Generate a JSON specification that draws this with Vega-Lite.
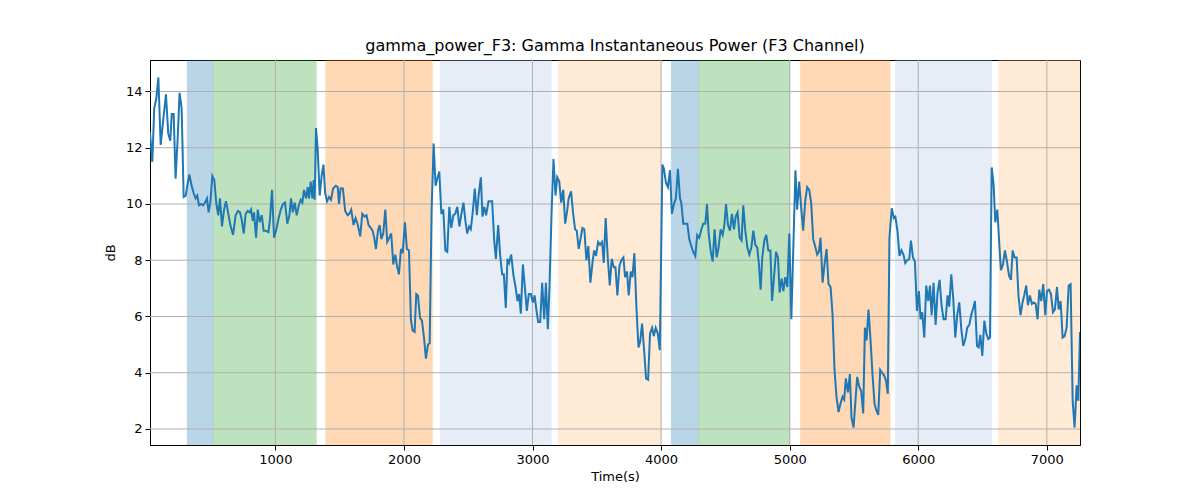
{
  "$schema": "https://vega.github.io/schema/vega-lite/v6.json",
  "autosize": "none",
  "width": 930,
  "height": 385,
  "padding": {"left": 150, "top": 60, "right": 120, "bottom": 55},
  "background": "white",
  "title": {"text": "gamma_power_F3: Gamma Instantaneous Power (F3 Channel)", "font": "DejaVu Sans", "fontSize": 16, "fontWeight": "normal", "color": "black", "offset": 6},
  "datasets": {
    "bands": [
      {"start": 313, "end": 516, "phase": "p1"},
      {"start": 516, "end": 1320, "phase": "p2"},
      {"start": 1390, "end": 2223, "phase": "p3"},
      {"start": 2280, "end": 3148, "phase": "p4"},
      {"start": 3200, "end": 3998, "phase": "p5"},
      {"start": 4078, "end": 4290, "phase": "p1"},
      {"start": 4290, "end": 5004, "phase": "p2"},
      {"start": 5082, "end": 5782, "phase": "p3"},
      {"start": 5821, "end": 6573, "phase": "p4"},
      {"start": 6625, "end": 7258, "phase": "p5"}
    ],
    "xgrid": [{"g": 1000}, {"g": 2000}, {"g": 3000}, {"g": 4000}, {"g": 5000}, {"g": 6000}, {"g": 7000}],
    "ygrid": [{"g": 2}, {"g": 4}, {"g": 6}, {"g": 8}, {"g": 10}, {"g": 12}, {"g": 14}],
    "series": [
      {"t":25,"v":12.55},{"t":43,"v":11.5},{"t":58,"v":13.4},{"t":74,"v":13.75},{"t":90,"v":14.5},{"t":108,"v":12.1},{"t":126,"v":12.9},{"t":149,"v":13.9},{"t":167,"v":12.5},{"t":183,"v":12.25},{"t":194,"v":13.2},{"t":209,"v":13.2},{"t":224,"v":10.9},{"t":240,"v":12.3},{"t":255,"v":13.95},{"t":271,"v":13.4},{"t":287,"v":10.25},{"t":303,"v":10.3},{"t":315,"v":10.65},{"t":331,"v":11.05},{"t":349,"v":10.65},{"t":364,"v":10.4},{"t":380,"v":10.2},{"t":393,"v":10.3},{"t":406,"v":9.95},{"t":422,"v":10.0},{"t":437,"v":9.95},{"t":453,"v":10.05},{"t":468,"v":10.2},{"t":481,"v":9.7},{"t":494,"v":10.05},{"t":510,"v":11.0},{"t":525,"v":10.85},{"t":541,"v":10.0},{"t":556,"v":9.6},{"t":569,"v":10.2},{"t":585,"v":9.2},{"t":601,"v":9.8},{"t":616,"v":10.1},{"t":632,"v":9.7},{"t":650,"v":9.25},{"t":671,"v":8.9},{"t":691,"v":9.6},{"t":709,"v":9.75},{"t":725,"v":9.7},{"t":738,"v":9.45},{"t":754,"v":8.95},{"t":769,"v":9.65},{"t":785,"v":9.75},{"t":800,"v":9.7},{"t":811,"v":9.8},{"t":824,"v":9.4},{"t":834,"v":9.7},{"t":850,"v":8.8},{"t":863,"v":9.8},{"t":878,"v":9.35},{"t":894,"v":9.6},{"t":909,"v":9.05},{"t":925,"v":9.05},{"t":946,"v":9.0},{"t":958,"v":9.45},{"t":974,"v":10.5},{"t":990,"v":8.8},{"t":1008,"v":9.1},{"t":1023,"v":9.45},{"t":1042,"v":9.8},{"t":1060,"v":10.0},{"t":1075,"v":10.05},{"t":1093,"v":9.3},{"t":1109,"v":9.6},{"t":1122,"v":10.2},{"t":1135,"v":9.7},{"t":1150,"v":10.05},{"t":1166,"v":9.6},{"t":1182,"v":9.95},{"t":1197,"v":10.15},{"t":1210,"v":10.05},{"t":1223,"v":10.5},{"t":1239,"v":10.2},{"t":1252,"v":10.6},{"t":1262,"v":10.2},{"t":1275,"v":10.8},{"t":1288,"v":10.2},{"t":1298,"v":10.85},{"t":1306,"v":10.15},{"t":1316,"v":12.7},{"t":1329,"v":11.95},{"t":1345,"v":10.3},{"t":1361,"v":11.05},{"t":1374,"v":11.4},{"t":1387,"v":10.4},{"t":1402,"v":10.1},{"t":1418,"v":10.25},{"t":1433,"v":10.15},{"t":1449,"v":10.55},{"t":1470,"v":10.65},{"t":1485,"v":10.6},{"t":1495,"v":10.0},
      {"t":1507,"v":10.55},{"t":1525,"v":10.55},{"t":1543,"v":9.75},{"t":1562,"v":9.6},{"t":1575,"v":9.65},{"t":1590,"v":9.8},{"t":1608,"v":9.25},{"t":1624,"v":9.5},{"t":1639,"v":9.3},{"t":1660,"v":8.85},{"t":1676,"v":9.65},{"t":1694,"v":9.55},{"t":1709,"v":9.6},{"t":1725,"v":9.25},{"t":1741,"v":9.15},{"t":1756,"v":9.05},{"t":1769,"v":8.8},{"t":1782,"v":8.4},{"t":1798,"v":9.05},{"t":1811,"v":9.25},{"t":1824,"v":8.75},{"t":1839,"v":8.95},{"t":1855,"v":9.8},{"t":1870,"v":8.65},{"t":1886,"v":8.8},{"t":1901,"v":8.95},{"t":1917,"v":7.85},{"t":1933,"v":8.2},{"t":1946,"v":7.8},{"t":1961,"v":7.5},{"t":1977,"v":8.4},{"t":1990,"v":8.25},{"t":2008,"v":9.35},{"t":2023,"v":8.4},{"t":2039,"v":8.35},{"t":2054,"v":5.9},{"t":2067,"v":5.5},{"t":2083,"v":5.45},{"t":2096,"v":6.8},{"t":2109,"v":6.75},{"t":2125,"v":5.95},{"t":2140,"v":5.85},{"t":2156,"v":5.25},{"t":2171,"v":4.5},{"t":2187,"v":5.0},{"t":2200,"v":5.05},{"t":2215,"v":9.75},{"t":2231,"v":12.15},{"t":2246,"v":10.65},{"t":2259,"v":10.9},{"t":2275,"v":11.15},{"t":2291,"v":9.65},{"t":2306,"v":9.8},{"t":2322,"v":8.35},{"t":2337,"v":8.3},{"t":2353,"v":9.9},{"t":2368,"v":9.15},{"t":2384,"v":9.6},{"t":2399,"v":9.65},{"t":2415,"v":9.9},{"t":2431,"v":9.2},
      {"t":2447,"v":9.65},{"t":2463,"v":10.05},{"t":2478,"v":9.4},{"t":2492,"v":8.95},{"t":2507,"v":9.2},{"t":2520,"v":9.1},{"t":2536,"v":9.75},{"t":2551,"v":10.55},{"t":2567,"v":9.6},{"t":2582,"v":10.35},{"t":2598,"v":10.95},{"t":2611,"v":9.55},{"t":2624,"v":9.9},{"t":2639,"v":9.6},{"t":2658,"v":10.1},{"t":2671,"v":10.1},{"t":2686,"v":10.1},{"t":2702,"v":8.7},{"t":2715,"v":8.05},{"t":2733,"v":9.25},{"t":2748,"v":8.2},{"t":2764,"v":7.5},{"t":2777,"v":7.5},{"t":2792,"v":6.3},{"t":2805,"v":8.05},{"t":2818,"v":7.9},{"t":2834,"v":8.2},{"t":2852,"v":7.45},{"t":2868,"v":7.05},{"t":2883,"v":6.55},{"t":2896,"v":6.8},{"t":2909,"v":6.1},{"t":2925,"v":7.85},{"t":2940,"v":7.05},{"t":2956,"v":6.2},{"t":2971,"v":6.8},{"t":2987,"v":6.8},{"t":3003,"v":6.5},{"t":3016,"v":6.75},{"t":3031,"v":6.2},{"t":3044,"v":5.8},{"t":3060,"v":5.8},{"t":3075,"v":7.2},{"t":3091,"v":5.9},{"t":3104,"v":7.2},{"t":3119,"v":5.55},{"t":3132,"v":7.05},{"t":3148,"v":9.65},{"t":3163,"v":11.6},{"t":3179,"v":10.3},{"t":3192,"v":10.95},{"t":3208,"v":10.8},{"t":3223,"v":10.05},{"t":3239,"v":10.5},{"t":3254,"v":9.3},{"t":3268,"v":9.7},{"t":3281,"v":10.2},
      {"t":3300,"v":10.45},{"t":3315,"v":9.7},{"t":3331,"v":9.1},{"t":3344,"v":9.05},{"t":3359,"v":8.4},{"t":3375,"v":8.8},{"t":3388,"v":9.15},{"t":3403,"v":9.1},{"t":3419,"v":8.0},{"t":3434,"v":8.5},{"t":3450,"v":7.2},{"t":3466,"v":7.9},{"t":3479,"v":8.35},{"t":3494,"v":8.15},{"t":3510,"v":8.65},{"t":3525,"v":8.55},{"t":3541,"v":8.65},{"t":3554,"v":7.9},{"t":3569,"v":9.5},{"t":3585,"v":8.1},{"t":3601,"v":7.1},{"t":3616,"v":8.05},{"t":3632,"v":7.75},{"t":3645,"v":7.75},{"t":3660,"v":6.75},{"t":3676,"v":7.8},{"t":3691,"v":8.0},{"t":3707,"v":8.1},{"t":3720,"v":7.4},{"t":3735,"v":7.6},{"t":3748,"v":6.75},{"t":3764,"v":7.6},{"t":3777,"v":7.4},{"t":3792,"v":8.25},{"t":3808,"v":6.35},{"t":3824,"v":4.9},{"t":3837,"v":5.1},{"t":3852,"v":5.75},{"t":3868,"v":4.8},{"t":3883,"v":3.8},{"t":3899,"v":3.75},{"t":3914,"v":5.4},{"t":3930,"v":5.6},{"t":3943,"v":5.3},{"t":3958,"v":5.6},{"t":3974,"v":5.4},{"t":3990,"v":4.8},
      {"t":4010,"v":11.4},{"t":4022,"v":11.25},{"t":4038,"v":10.75},{"t":4053,"v":10.6},{"t":4069,"v":11.2},{"t":4084,"v":9.65},{"t":4100,"v":10.0},{"t":4115,"v":10.2},{"t":4131,"v":11.25},{"t":4147,"v":10.2},{"t":4157,"v":10.05},{"t":4173,"v":9.3},{"t":4188,"v":9.3},{"t":4204,"v":9.3},{"t":4219,"v":8.75},{"t":4235,"v":8.5},{"t":4250,"v":8.3},{"t":4266,"v":8.15},{"t":4281,"v":8.9},{"t":4297,"v":8.8},{"t":4313,"v":9.1},{"t":4328,"v":9.3},{"t":4344,"v":9.3},{"t":4357,"v":10.0},{"t":4370,"v":8.95},{"t":4385,"v":8.35},{"t":4401,"v":7.95},{"t":4416,"v":9.1},{"t":4432,"v":8.1},{"t":4447,"v":8.45},{"t":4463,"v":9.1},{"t":4479,"v":8.9},{"t":4492,"v":9.25},{"t":4505,"v":10.0},{"t":4520,"v":9.25},{"t":4536,"v":9.05},{"t":4551,"v":9.65},{"t":4567,"v":9.1},{"t":4580,"v":9.55},{"t":4595,"v":9.7},{"t":4611,"v":8.8},{"t":4626,"v":8.7},{"t":4639,"v":9.95},{"t":4655,"v":9.05},{"t":4671,"v":8.45},{"t":4686,"v":8.2},{"t":4702,"v":8.45},{"t":4717,"v":9.05},{"t":4733,"v":8.55},{"t":4748,"v":8.45},{"t":4761,"v":7.85},{"t":4774,"v":6.95},{"t":4787,"v":8.1},{"t":4803,"v":8.7},{"t":4818,"v":8.9},{"t":4834,"v":8.35},{"t":4850,"v":8.35},{"t":4863,"v":6.55},{"t":4878,"v":7.4},{"t":4894,"v":8.3},{"t":4909,"v":8.1},{"t":4922,"v":6.85},{"t":4938,"v":7.35},{"t":4951,"v":6.9},{"t":4966,"v":7.4},{"t":4982,"v":7.05},{"t":4997,"v":8.95},{"t":5013,"v":5.9},
      {"t":5045,"v":11.2},{"t":5058,"v":9.8},{"t":5074,"v":10.8},{"t":5089,"v":9.9},{"t":5105,"v":9.05},{"t":5121,"v":10.1},{"t":5136,"v":10.6},{"t":5152,"v":10.5},{"t":5167,"v":10.05},{"t":5183,"v":8.75},{"t":5198,"v":8.5},{"t":5214,"v":8.2},{"t":5227,"v":8.3},{"t":5240,"v":8.8},{"t":5256,"v":7.2},{"t":5271,"v":7.85},{"t":5287,"v":8.4},{"t":5302,"v":7.15},{"t":5318,"v":7.05},{"t":5333,"v":6.1},{"t":5349,"v":4.1},{"t":5364,"v":3.15},{"t":5380,"v":2.6},{"t":5395,"v":2.9},{"t":5411,"v":3.15},{"t":5424,"v":3.05},{"t":5437,"v":3.8},{"t":5453,"v":3.3},{"t":5468,"v":3.95},{"t":5481,"v":2.4},{"t":5497,"v":2.05},{"t":5510,"v":2.9},{"t":5525,"v":3.85},{"t":5541,"v":3.5},{"t":5556,"v":3.35},{"t":5572,"v":2.55},{"t":5585,"v":5.6},{"t":5598,"v":5.15},{"t":5613,"v":6.25},{"t":5629,"v":5.15},{"t":5644,"v":3.95},{"t":5660,"v":2.9},{"t":5675,"v":2.65},{"t":5689,"v":2.5},{"t":5704,"v":4.1},{"t":5719,"v":4.0},{"t":5735,"v":3.9},{"t":5750,"v":3.7},{"t":5763,"v":3.25},{"t":5776,"v":8.8},{"t":5794,"v":9.85},{"t":5810,"v":9.5},{"t":5822,"v":9.55},{"t":5838,"v":9.05},{"t":5854,"v":8.15},{"t":5869,"v":8.35},{"t":5885,"v":8.2},
      {"t":5899,"v":7.9},{"t":5914,"v":8.0},{"t":5930,"v":8.05},{"t":5943,"v":8.7},{"t":5959,"v":8.1},{"t":5974,"v":7.95},{"t":5990,"v":6.2},{"t":6005,"v":6.9},{"t":6018,"v":5.9},{"t":6031,"v":6.15},{"t":6047,"v":5.25},{"t":6062,"v":7.1},{"t":6078,"v":6.55},{"t":6091,"v":7.1},{"t":6104,"v":6.05},{"t":6119,"v":7.2},{"t":6135,"v":5.7},{"t":6150,"v":6.85},{"t":6166,"v":7.3},{"t":6181,"v":6.4},{"t":6197,"v":5.9},{"t":6213,"v":5.9},{"t":6228,"v":6.75},{"t":6241,"v":6.35},{"t":6257,"v":7.5},{"t":6272,"v":6.65},{"t":6288,"v":5.25},{"t":6303,"v":6.05},{"t":6319,"v":6.5},{"t":6335,"v":5.55},{"t":6350,"v":4.95},{"t":6366,"v":5.2},{"t":6381,"v":5.6},{"t":6397,"v":5.7},{"t":6412,"v":6.05},{"t":6428,"v":6.3},{"t":6441,"v":6.55},{"t":6457,"v":4.95},{"t":6470,"v":4.9},{"t":6483,"v":5.35},{"t":6498,"v":4.6},{"t":6514,"v":5.85},{"t":6529,"v":5.4},{"t":6545,"v":5.2},{"t":6558,"v":5.25},
      {"t":6571,"v":11.3},{"t":6586,"v":10.7},{"t":6599,"v":9.35},{"t":6615,"v":9.8},{"t":6630,"v":8.6},{"t":6643,"v":7.65},{"t":6659,"v":7.85},{"t":6674,"v":8.35},{"t":6690,"v":7.95},{"t":6706,"v":7.45},{"t":6721,"v":7.3},{"t":6734,"v":8.35},{"t":6749,"v":8.1},{"t":6765,"v":8.1},{"t":6780,"v":6.7},{"t":6796,"v":6.05},{"t":6811,"v":6.5},{"t":6824,"v":6.75},{"t":6840,"v":7.1},{"t":6853,"v":6.4},{"t":6868,"v":6.75},{"t":6884,"v":6.45},{"t":6897,"v":6.5},{"t":6913,"v":6.45},{"t":6928,"v":5.9},{"t":6941,"v":6.95},{"t":6957,"v":6.55},{"t":6972,"v":7.15},{"t":6988,"v":6.05},{"t":7001,"v":6.9},{"t":7017,"v":6.95},{"t":7032,"v":6.8},{"t":7048,"v":6.15},{"t":7063,"v":6.25},{"t":7079,"v":7.05},{"t":7092,"v":6.25},{"t":7107,"v":6.55},{"t":7123,"v":5.25},{"t":7138,"v":5.3},{"t":7154,"v":5.6},{"t":7170,"v":7.1},{"t":7185,"v":7.15},{"t":7201,"v":3.0},{"t":7216,"v":2.05},{"t":7232,"v":3.55},{"t":7245,"v":3.0},{"t":7258,"v":5.45}
    ]
  },
  "layer": [
    {
      "data": {"name": "bands"},
      "mark": {"type": "rect", "opacity": 0.3, "strokeWidth": 1, "strokeOpacity": 0.3},
      "encoding": {
        "x": {"field": "start", "type": "quantitative", "scale": {"domain": [25, 7258], "nice": false, "zero": false}},
        "x2": {"field": "end"},
        "color": {"field": "phase", "type": "nominal", "legend": null,
          "scale": {"domain": ["p1", "p2", "p3", "p4", "p5"], "range": ["#1f77b4", "#2ca02c", "#ff7f0e", "#aec7e8", "#ffbb78"]}},
        "stroke": {"field": "phase", "type": "nominal", "legend": null,
          "scale": {"domain": ["p1", "p2", "p3", "p4", "p5"], "range": ["#1f77b4", "#2ca02c", "#ff7f0e", "#aec7e8", "#ffbb78"]}}
      }
    },
    {
      "data": {"name": "xgrid"},
      "mark": {"type": "rule", "color": "#b0b0b0", "strokeWidth": 1},
      "encoding": {"x": {"field": "g", "type": "quantitative"}}
    },
    {
      "data": {"name": "ygrid"},
      "mark": {"type": "rule", "color": "#b0b0b0", "strokeWidth": 1},
      "encoding": {"y": {"field": "g", "type": "quantitative"}}
    },
    {
      "data": {"name": "series"},
      "mark": {"type": "line", "color": "#1f77b4", "strokeWidth": 2, "clip": true},
      "encoding": {
        "x": {"field": "t", "type": "quantitative", "title": "Time(s)",
          "scale": {"domain": [25, 7258], "nice": false, "zero": false},
          "axis": {"values": [1000, 2000, 3000, 4000, 5000, 6000, 7000], "format": "d"}},
        "y": {"field": "v", "type": "quantitative", "title": "dB",
          "scale": {"domain": [1.43, 15.12], "nice": false, "zero": false},
          "axis": {"values": [2, 4, 6, 8, 10, 12, 14], "format": "d"}}
      }
    }
  ],
  "config": {
    "view": {"stroke": "black", "strokeWidth": 1},
    "axis": {
      "labelFont": "DejaVu Sans", "labelFontSize": 13, "labelColor": "black",
      "titleFont": "DejaVu Sans", "titleFontSize": 13, "titleFontWeight": "normal", "titleColor": "black",
      "domainColor": "black", "domainWidth": 1,
      "tickColor": "black", "tickSize": 5, "tickWidth": 1,
      "grid": false,
      "labelPadding": 3
    },
    "axisX": {"titlePadding": 4},
    "axisY": {"titlePadding": 8}
  }
}
